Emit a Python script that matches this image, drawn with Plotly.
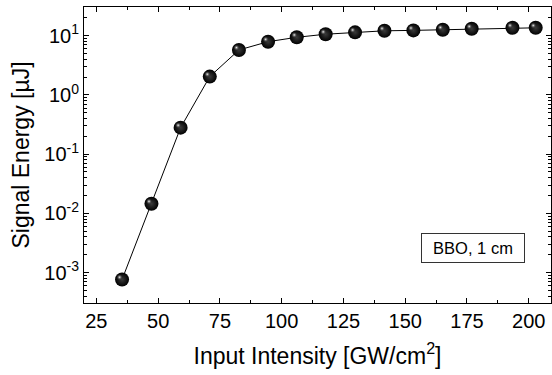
import plotly.graph_objects as go

intensity = [35.4, 47.3, 59.1, 70.9, 82.7, 94.5, 106.1, 117.8, 129.7, 141.6, 153.3, 165.2, 176.9, 193.4, 202.8]
energy = [7.6e-4, 0.0145, 0.28, 2.04, 5.74, 7.93, 9.4, 10.6, 11.4, 12.1, 12.3, 12.6, 13.1, 13.6, 13.6]

x_ticks = [25, 50, 75, 100, 125, 150, 175, 200]
x_minor = [37.5, 62.5, 87.5, 112.5, 137.5, 162.5, 187.5]
y_tickvals = [1e-3, 1e-2, 1e-1, 1, 10]
y_ticktext = ["10<sup>-3</sup>", "10<sup>-2</sup>", "10<sup>-1</sup>", "10<sup>0</sup>", "10<sup>1</sup>"]

FONT = "Liberation Sans, Arial, sans-serif"
XR = [20, 209]
YR = [-3.515, 1.485]

fig = go.Figure()
fig.add_trace(go.Scatter(
    x=intensity, y=energy, mode="lines+markers",
    line=dict(color="black", width=1),
    marker=dict(size=14, color="black", line=dict(width=0),
                gradient=dict(type="radial", color="#3a3a3a")),
    showlegend=False, hoverinfo="skip"))
# specular highlight, drawn on a slightly shifted overlay axis pair
fig.add_trace(go.Scatter(
    x=intensity, y=energy, mode="markers", xaxis="x2", yaxis="y2",
    marker=dict(size=6, color="rgba(60,60,60,0)", line=dict(width=0),
                gradient=dict(type="radial", color="rgba(255,255,255,0.95)")),
    showlegend=False, hoverinfo="skip"))

fig.update_layout(
    xaxis=dict(
        range=XR, tickvals=x_ticks, ticks="inside", ticklen=5, tickwidth=1,
        tickcolor="black", mirror="ticks", showline=True, linecolor="black", linewidth=1,
        showgrid=False, zeroline=False,
        minor=dict(ticks="inside", ticklen=3, tickvals=x_minor, tickcolor="black"),
        tickfont=dict(family=FONT, size=20, color="black"),
        title=dict(text="Input Intensity [GW/cm<sup>2</sup>]", font=dict(family=FONT, size=23, color="black"), standoff=16)),
    yaxis=dict(
        type="log", range=YR, tickvals=y_tickvals, ticktext=y_ticktext,
        ticks="inside", ticklen=5, tickwidth=1, tickcolor="black", mirror="ticks",
        showline=True, linecolor="black", linewidth=1, showgrid=False, zeroline=False,
        minor=dict(ticks="inside", ticklen=3, dtick="D1", tickcolor="black"),
        tickfont=dict(family=FONT, size=20, color="black"),
        title=dict(text="Signal Energy [µJ]", font=dict(family=FONT, size=23, color="black"), standoff=8)),
    xaxis2=dict(overlaying="x", range=[XR[0] + 1.0, XR[1] + 1.0], visible=False),
    yaxis2=dict(overlaying="y", type="log", range=[YR[0] - 0.04, YR[1] - 0.04], visible=False),
)

fig.add_annotation(
    xref="paper", yref="paper", x=0.833, y=0.185, xanchor="center", yanchor="middle",
    text="BBO, 1 cm", showarrow=False, width=92, height=18,
    font=dict(family=FONT, size=16.5, color="black"), bordercolor="#333", borderwidth=1,
    borderpad=5, bgcolor="white")

fig.update_layout(
    width=552, height=375, margin=dict(l=84, r=1, t=7, b=72),
    plot_bgcolor="white", paper_bgcolor="white")

fig.write_html("out.html")
